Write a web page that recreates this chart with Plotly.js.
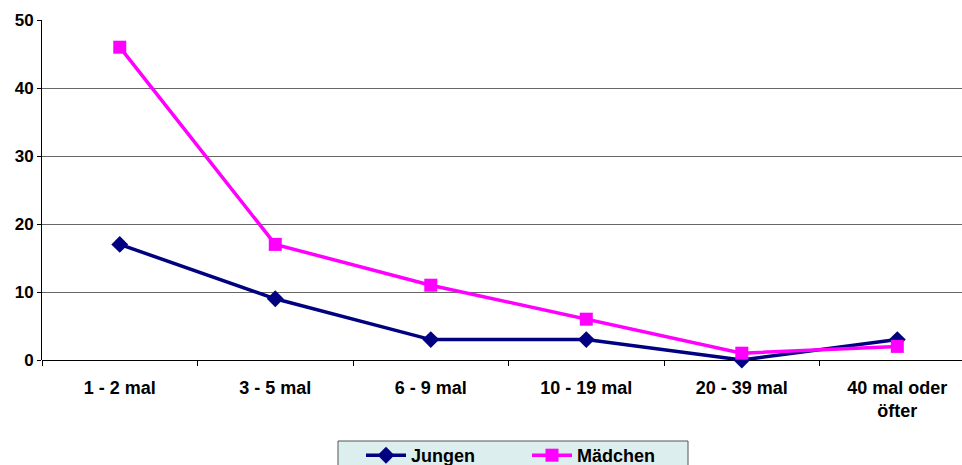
<!DOCTYPE html>
<html>
<head>
<meta charset="utf-8">
<script src="https://cdn.plot.ly/plotly-3.0.1.min.js"></script>
<style>html,body{margin:0;padding:0;background:#fff;}#chart{width:962px;height:465px;}</style>
</head>
<body>
<div id="chart"></div>
<script>
var categories = ["1 - 2 mal", "3 - 5 mal", "6 - 9 mal", "10 - 19 mal", "20 - 39 mal", "40 mal oder<br>öfter"];
var jungen = [17, 9, 3, 3, 0, 3];
var maedchen = [46, 17, 11, 6, 1, 2];
var yTicks = [0, 10, 20, 30, 40, 50];

var traces = [
  {x: categories, y: jungen, name: "Jungen", type: "scatter", mode: "lines+markers",
   line: {color: "#000080", width: 3.5}, marker: {symbol: "diamond", size: 13, color: "#000080"}, cliponaxis: false},
  {x: categories, y: maedchen, name: "Mädchen", type: "scatter", mode: "lines+markers",
   line: {color: "#FF00FF", width: 3.5}, marker: {symbol: "square", size: 13, color: "#FF00FF"}, cliponaxis: false}
];

var layout = {
  width: 962, height: 465,
  margin: {l: 42, r: 0, t: 20, b: 105},
  paper_bgcolor: "#ffffff", plot_bgcolor: "#ffffff",
  font: {family: "Liberation Sans, Arial, sans-serif", size: 17, color: "#000"},
  showlegend: true,
  legend: {orientation: "h", x: 361/962, xref: "container", xanchor: "left", y: 28/465, yref: "container", yanchor: "top",
    bgcolor: "rgba(0,0,0,0)", borderwidth: 0,
    font: {size: 18, family: "Liberation Sans, Arial, sans-serif", weight: "bold"},
    itemwidth: 40, entrywidth: 111, entrywidthmode: "pixels", tracegroupgap: 0},
  shapes: [
    {type: "rect", xref: "paper", yref: "paper", x0: (338-42)/920, x1: (688-42)/920, y0: (360-441)/340, y1: (360-472)/340,
     fillcolor: "#ddeeee", line: {color: "#555", width: 1}, layer: "below"}
  ],
  xaxis: {type: "category", range: [-0.5, 5.416], tickson: "boundaries", ticks: "outside", ticklen: 5,
    tickcolor: "#000", showgrid: false, showline: false, zeroline: false, ticklabelstandoff: 15,
    tickfont: {size: 18, weight: "bold"}, automargin: false, fixedrange: true},
  yaxis: {range: [0, 50], tickvals: yTicks, ticks: "outside", ticklen: 4, tickcolor: "#000",
    showline: true, linecolor: "#000", linewidth: 1, showgrid: true, gridcolor: "#666", gridwidth: 1,
    zeroline: true, zerolinecolor: "#000", zerolinewidth: 1,
    tickfont: {size: 17, weight: "bold"}, automargin: false, fixedrange: true}
};

Plotly.newPlot("chart", traces, layout, {displayModeBar: false, staticPlot: true});
</script>
</body>
</html>
